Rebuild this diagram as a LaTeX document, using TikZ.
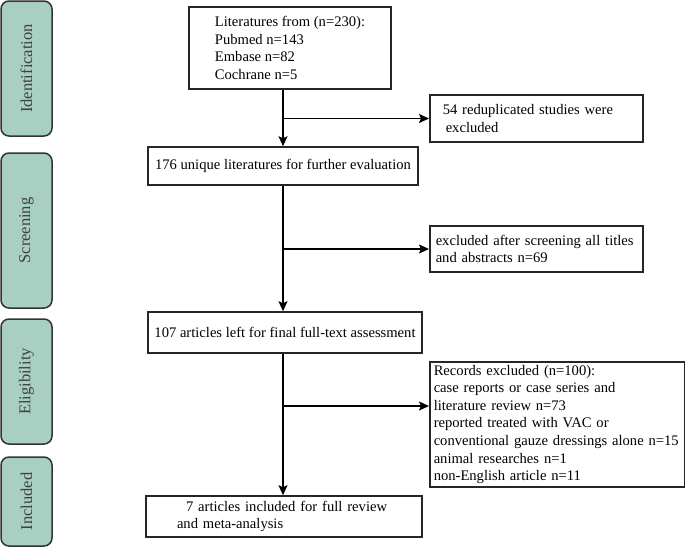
\documentclass[tikz,border=0pt]{standalone}
\usepackage{fontspec}
\setmainfont{Liberation Serif}
\usetikzlibrary{arrows.meta, positioning}
\definecolor{phasegreen}{HTML}{A9CFC2}
\definecolor{phasetext}{HTML}{404040}

\begin{document}
\begin{tikzpicture}
        [x=1pt, y=-1pt,
        font=\fontsize{14.6}{17.6}\selectfont,
        block/.style ={rectangle, draw=black!85, line width=1.5pt, fill=white,
        inner xsep=0pt, inner ysep=0pt},
        phase/.style ={rectangle, rounded corners=8pt, draw=black!80, line width=1.5pt,
        fill=phasegreen, text=phasetext, rotate=90, minimum height=51pt, inner sep=0pt,
        font=\fontsize{16.5}{18}\selectfont},
        line/.style ={draw, line width=1.6pt, -{Stealth[length=10pt,width=9pt,inset=2pt]}}]
        \useasboundingbox (0,0) rectangle (685,547);
        % phases
        \node [phase, minimum width=135pt] (ident) at (26.5,68.5) {Identification};
        \node [phase, minimum width=155pt] (screen) at (26.5,230.5) {Screening};
        \node [phase, minimum width=125pt] (elig) at (26.5,381.5) {Eligibility};
        \node [phase, minimum width=89pt] (incl) at (26.5,501.5) {Included};
        % main column
        \node [block, minimum width=202pt, minimum height=82pt, align=left] (lit) at (290,48)
            {Literatures from (n=230):\\Pubmed n=143\\Embase n=82\\Cochrane n=5};
        \node [block, minimum width=270pt, minimum height=38pt] (uniq) at (283,166)
            {176 unique literatures for further evaluation};
        \node [block, minimum width=274pt, minimum height=41pt] (full) at (285,332.5)
            {107 articles left for final full-text assessment};
        \node [block, minimum width=276pt, minimum height=41pt, text width=214pt, align=left] (final) at (284,516.5)
            {\hspace*{9pt}7 articles included for full review\\and meta-analysis};
        % excluded column
        \node [block, anchor=west, minimum width=213pt, minimum height=47pt, text width=187pt, align=left] (dup) at (429,118.5)
            {54 reduplicated studies were\\\hspace*{3pt}excluded};
        \node [block, anchor=west, minimum width=213pt, minimum height=46pt, text width=201pt, align=left] (scr) at (429,249)
            {excluded after screening all titles\\and abstracts n=69};
        \node [block, anchor=west, minimum width=255pt, minimum height=125pt, text width=247pt, align=left] (rec) at (429,424.5)
            {Records excluded (n=100):\\case reports or case series and\\literature review n=73\\reported treated with VAC or\\conventional gauze dressings alone n=15\\animal researches n=1\\non-English article n=11};
        \coordinate (jrec) at (284,406);
        \begin{scope}[every path/.style=line]
            \path (lit.south -| uniq.north) -- (uniq.north);
            \path (uniq.south) -- (uniq.south |- full.north);
            \path (full.south -| uniq.south) -- (uniq.south |- final.north);
            \path (dup.west -| uniq.north) -- (dup.west);
            \path (scr.west -| uniq.south) -- (scr.west);
            \path (jrec -| uniq.south) -- (jrec -| rec.west);
        \end{scope}
    \end{tikzpicture}
\end{document}
